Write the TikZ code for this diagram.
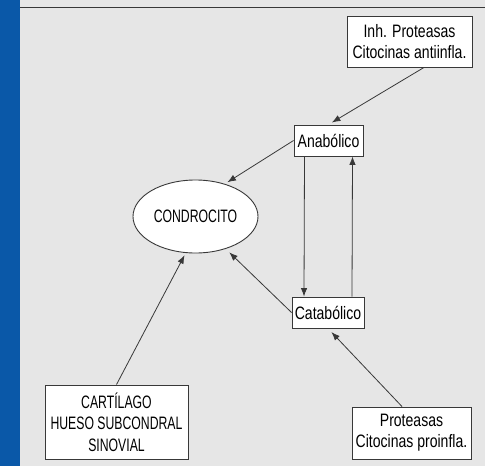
\documentclass[tikz,border=0pt]{standalone}
\usepackage{fontspec}
\setmainfont{Liberation Sans}[FakeStretch=0.78]
\newfontfamily\capsfont{Liberation Sans}[FakeStretch=0.68]
\usetikzlibrary{arrows.meta,shapes.geometric}
\definecolor{fondo}{HTML}{E6E6E6}
\definecolor{azul}{HTML}{0A58A8}
\definecolor{trazo}{HTML}{383838}
\tikzset{
	caja/.style={draw=trazo, line width=.9pt, fill=white, inner sep=0pt, align=center, font=\fontsize{18}{21}\selectfont, text=black},
	flecha/.style={-{Latex[length=8.5pt,width=6.5pt]}, line width=.8pt, draw=trazo}
}
\begin{document}
\begin{tikzpicture}[x=1pt,y=-1pt]
		\useasboundingbox (0,0) rectangle (485,466);
		\fill[fondo] (0,0) rectangle (485,466);
		\fill[azul] (0,0) rectangle (20,466);
		\draw[trazo, line width=1.3pt] (20,7.5)--(485,7.5);
		\node[caja, minimum width=125pt, minimum height=51pt] (inh) at (409.5,41.5) {Inh. Proteasas\\Citocinas antiinfla.};
		\node[caja, minimum width=69pt, minimum height=31pt] (ana) at (328.5,140.5) {Anabólico};
		\node[caja, ellipse, minimum width=125pt, minimum height=73pt, font=\capsfont\fontsize{18}{21}\selectfont] (cond) at (195.5,216.5) {CONDROCITO};
		\node[caja, minimum width=72pt, minimum height=31pt] (cat) at (328,312.5) {Catabólico};
		\node[caja, minimum width=119pt, minimum height=52pt] (prot) at (411.5,433) {Proteasas\\Citocinas proinfla.};
		\node[caja, minimum width=143pt, minimum height=74pt, font=\capsfont\fontsize{18}{21.7}\selectfont] (cart) at (116.5,422) {CARTÍLAGO\\HUESO SUBCONDRAL\\SINOVIAL};
		\draw[flecha, shorten >=4pt] ([xshift=14.5pt]inh.south)--(ana.north);
		\draw[flecha, shorten >=3pt] (ana.west)--(cond.48.5);
		\draw[flecha] ([xshift=-24pt]ana.south)--([xshift=-24pt]cat.north);
		\draw[flecha] ([xshift=24pt]cat.north)--([xshift=24pt]ana.south);
		\draw[flecha, shorten >=5pt] (cat.west)--(cond.-47.5);
		\draw[flecha, shorten >=5pt] ([xshift=-9.5pt]prot.north)--(cat.south);
		\draw[flecha, shorten >=2.5pt] (cart.north)--(cond.-105);
	\end{tikzpicture}
\end{document}
